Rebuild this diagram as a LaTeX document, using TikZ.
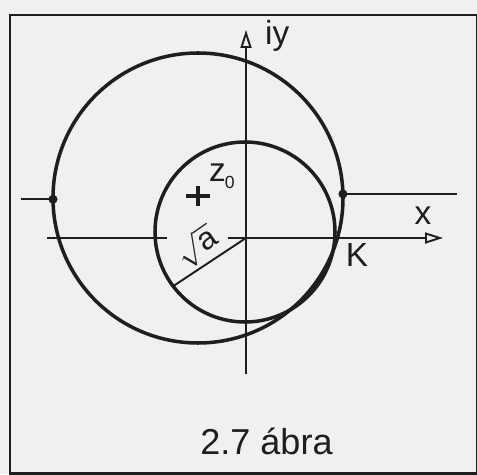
\documentclass[tikz,border=0pt]{standalone}
\usepackage{fontspec}
\setmainfont{Liberation Sans}
\usepackage{tikz}
\usetikzlibrary{arrows.meta, calc, positioning}
\definecolor{inkblack}{HTML}{1E1E1E}
\definecolor{paper}{HTML}{F0F0F0}
\tikzset{
  % Frame round the figure
  framebox/.style={draw=inkblack, line width=1.7pt},
  % Circles
  curve/.style={draw=inkblack, line width=2pt},
  % Axes
  axis/.style={draw=inkblack, line width=1.1pt},
  axisarrow/.style={axis, -{Triangle[open, length=3.6mm, width=2.2mm, line width=1.1pt]}},
  % Cuts and branch points
  cutline/.style={draw=inkblack, line width=1.2pt},
  branchpt/.style={circle, fill=inkblack, inner sep=0pt, minimum size=1.8mm},
  % Labels
  lbl/.style={font=\fontsize{19}{22}\selectfont, text=inkblack, inner sep=1pt},
}

\begin{document}
\begin{tikzpicture}[x=0.2mm, y=0.2mm]

  % Paper and frame
  \fill[paper] (0,0) rectangle (477,474);
  \useasboundingbox (0,0) rectangle (477,474);
  \draw[framebox] (10,0.5) rectangle (477,459);

  % Axes
  \coordinate (O) at (246,236);
  \coordinate (xl) at (47,236);
  \coordinate (xgapl) at (167,236);
  \coordinate (xgapr) at (228,236);
  \coordinate (xr) at (443,236);
  \coordinate (yb) at (246,100);
  \coordinate (yt) at (246,444);
  \draw[axis] (xl) -- (xgapl);
  \draw[axisarrow] (xgapr) -- (xr);
  \draw[axisarrow] (yb) -- (yt);

  % Circles
  \coordinate (z0) at (198,276);
  \coordinate (c) at (245,242);
  \draw[curve] (z0) circle[radius=145];
  \draw[curve] (c) circle[radius=90];

  % Radius
  \coordinate (P) at ($(c)+(217:90)$);
  \draw[axis] (O) -- (P);

  % Branch points and cuts
  \node[branchpt] (bl) at ($(z0)+(180.5:145)$) {};
  \node[branchpt] (br) at ($(z0)+(1.6:145)$) {};
  \coordinate (blend) at ($(bl)+(-32,0)$);
  \coordinate (brend) at ($(br)+(114,0)$);
  \draw[cutline] (blend) -- (bl.center);
  \draw[cutline] (br.center) -- (brend);

  % Centre mark
  \draw[curve, line width=1.8pt] ($(z0)+(-12,2)$) -- ($(z0)+(12,2)$)
    ($(z0)+(0,-8)$) -- ($(z0)+(0,12)$);

  % Labels
  \node[lbl, anchor=base west] (iylbl) at (263,429) {iy};
  \node[lbl] (xlbl) at (423,258) {x};
  \node[lbl] (klbl) at (357,219) {K};
  \node[lbl, anchor=base west] (z0lbl) at (207,292)
    {z\kern-0.5pt\raisebox{-1.4mm}{\fontsize{10}{12}\selectfont 0}};
  \node[lbl, font=\fontsize{18}{21}\selectfont, rotate=35] (sqrtlbl) at (197,227)
    {$\sqrt{\mbox{a}}$};
  \node[lbl, font=\fontsize{20.5}{24}\selectfont, anchor=base] (caption) at (266.5,20)
    {2.7 ábra};

\end{tikzpicture}
\end{document}
